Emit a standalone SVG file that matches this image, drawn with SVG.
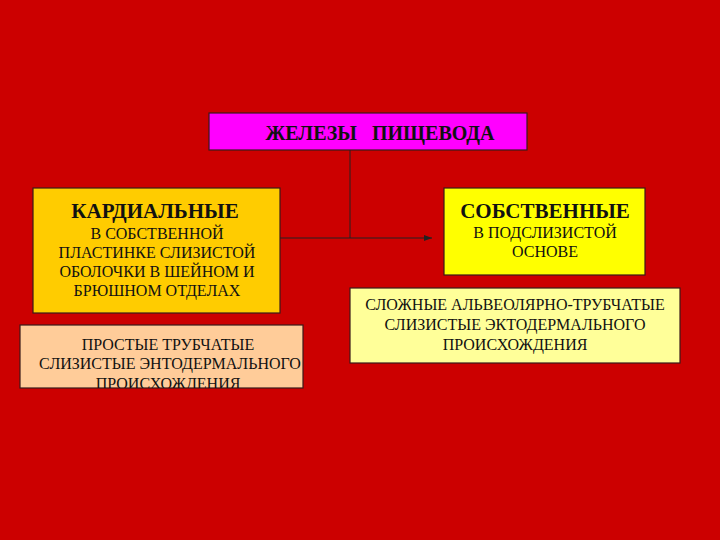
<svg xmlns="http://www.w3.org/2000/svg" width="720" height="540" viewBox="0 0 720 540">
<style>
.box{stroke:#3a1a1a;stroke-width:1.2}
.t{font-family:"Liberation Serif","Times New Roman",serif;fill:#111;text-anchor:middle}
.h{font-weight:bold;font-size:21px}
.s{font-size:16px}
.c{stroke:#222;stroke-width:1;fill:none}
</style>
<defs>
<marker id="arr" markerWidth="8" markerHeight="6" refX="8" refY="3" orient="auto" markerUnits="userSpaceOnUse">
<path d="M0,0 L8,3 L0,6 Z" fill="#222"/>
</marker>
<clipPath id="clipLL"><rect x="20" y="325" width="283" height="63"/></clipPath>
</defs>
<rect width="720" height="540" fill="#CC0000"/>
<g id="connectors">
<path class="c" d="M350,150 V238"/>
<path class="c" d="M280,238 H432" marker-end="url(#arr)"/>
</g>
<g id="title">
<rect class="box" x="209" y="113" width="318" height="37" fill="#FF00FF"/>
<text class="t" x="380" y="140" xml:space="preserve" style="font-weight:bold;font-size:20px;white-space:pre">ЖЕЛЕЗЫ   ПИЩЕВОДА</text>
</g>
<g id="cardial">
<rect class="box" x="33" y="188" width="247" height="125" fill="#FFCC00"/>
<text class="t h" x="155" y="218">КАРДИАЛЬНЫЕ</text>
<text class="t s" x="157" y="239">В СОБСТВЕННОЙ</text>
<text class="t s" x="157" y="258">ПЛАСТИНКЕ СЛИЗИСТОЙ</text>
<text class="t s" x="157" y="277">ОБОЛОЧКИ В ШЕЙНОМ И</text>
<text class="t s" x="157" y="296">БРЮШНОМ ОТДЕЛАХ</text>
</g>
<g id="own">
<rect class="box" x="444" y="188" width="201" height="87" fill="#FFFF00"/>
<text class="t h" x="545" y="218">СОБСТВЕННЫЕ</text>
<text class="t s" x="545" y="238">В ПОДСЛИЗИСТОЙ</text>
<text class="t s" x="545" y="257">ОСНОВЕ</text>
</g>
<g id="simple">
<rect class="box" x="20" y="325" width="283" height="63" fill="#FFCC99"/>
<g clip-path="url(#clipLL)">
<text class="t s" x="168" y="350">ПРОСТЫЕ ТРУБЧАТЫЕ</text>
<text class="t s" x="170" y="369">СЛИЗИСТЫЕ ЭНТОДЕРМАЛЬНОГО</text>
<text class="t s" x="168" y="389">ПРОИСХОЖДЕНИЯ</text>
</g>
</g>
<g id="complex">
<rect class="box" x="350" y="288" width="330" height="75" fill="#FFFF99"/>
<text class="t s" x="515" y="310">СЛОЖНЫЕ АЛЬВЕОЛЯРНО-ТРУБЧАТЫЕ</text>
<text class="t s" x="515" y="330">СЛИЗИСТЫЕ ЭКТОДЕРМАЛЬНОГО</text>
<text class="t s" x="515" y="350">ПРОИСХОЖДЕНИЯ</text>
</g>
</svg>
